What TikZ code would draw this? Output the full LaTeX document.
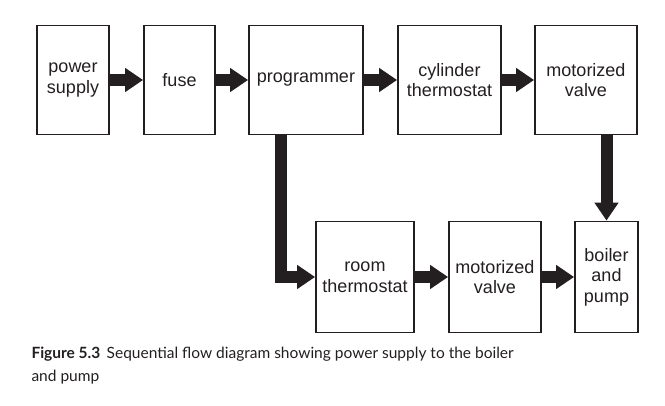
\documentclass[tikz,border=0pt]{standalone}
\usepackage{fontspec}
\setmainfont{Liberation Sans}
\newfontfamily\capfont{Lato}
\usepackage{xcolor}
\usetikzlibrary{arrows.meta, positioning}
\definecolor{ink}{HTML}{231F20}

\begin{document}
\begin{tikzpicture}[
  x=1pt, y=-1pt,
  every node/.style={font=\fontsize{18}{20.5}\selectfont, align=center, text=ink},
  box/.style={draw=ink, line width=1.8pt, minimum height=109pt, inner sep=0pt},
  lowbox/.style={box, minimum height=111pt},
  arr/.style={-{Triangle[length=18pt, width=23pt]}, line width=12pt, draw=ink,
              line join=miter},
]
  \useasboundingbox (0,0) rectangle (665,406);

  \node[box, minimum width=72pt]     (power)  at (73,80)    {power\\supply};
  \node[box, minimum width=71pt]     (fuse)   at (179.5,80) {fuse};
  \node[box, minimum width=114pt]    (prog)   at (306,80)   {programmer};
  \node[box, minimum width=103pt]    (cyl)    at (449.5,80) {cylinder\\thermostat};
  \node[box, minimum width=102pt]    (mvtop)  at (586,80)   {motorized\\valve};

  \node[lowbox, minimum width=98pt]  (roomt)  at (365,277)  {room\\thermostat};
  \node[lowbox, minimum width=92pt]  (mvbot)  at (495,277)  {motorized\\valve};
  \node[lowbox, minimum width=63pt]  (boiler) at (606.5,277) {boiler\\and\\pump};

  \coordinate (bend) at (280.5,277);

  \draw[arr] (power) -- (fuse);
  \draw[arr] (fuse)  -- (prog);
  \draw[arr] (prog)  -- (cyl);
  \draw[arr] (cyl)   -- (mvtop);
  \draw[arr] (bend |- prog.south) -- (bend) -- (roomt.west);
  \draw[arr] (roomt) -- (mvbot);
  \draw[arr] (mvbot) -- (boiler);
  \draw[arr] (boiler.north |- mvtop.south) -- (boiler.north);

  % caption
  \node[anchor=base west, font=\capfont\fontsize{15.5}{20}\selectfont] (cap1) at (28,359)
    {\textbf{Figure 5.3}\hspace{0.15em} Sequential flow diagram showing power supply to the boiler};
  \node[anchor=base west, font=\capfont\fontsize{15.5}{20}\selectfont] (cap2) at (28,382)
    {and pump};
\end{tikzpicture}
\end{document}
